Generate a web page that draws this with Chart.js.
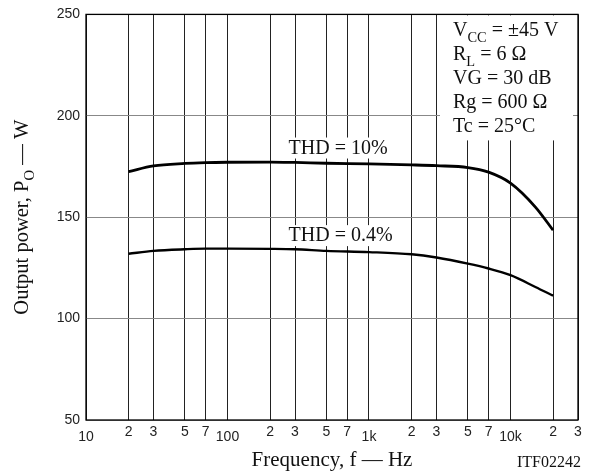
<!DOCTYPE html>
<html>
<head>
<meta charset="utf-8">
<script src="https://cdn.jsdelivr.net/npm/chart.js@4.4.0/dist/chart.umd.min.js"></script>
<style>
  html, body { margin: 0; padding: 0; background: #fff; }
  #wrap { width: 589px; height: 475px; }
</style>
</head>
<body>
<div id="wrap"><canvas id="powerChart"></canvas></div>
<script>
// Output power vs frequency for two THD levels
const freqs = [20, 30, 50, 70, 100, 200, 300, 500, 1000, 2000, 3000, 5000, 7000, 10000, 15000, 20000];
const thd10 = [172.5, 175.3, 176.5, 176.9, 177.1, 177.2, 177.0, 176.6, 176.3, 175.8, 175.4, 174.5, 172.2, 166.8, 155.0, 143.6];
const thd04 = [132.0, 133.4, 134.2, 134.5, 134.5, 134.4, 134.2, 133.4, 132.8, 131.7, 130.1, 127.1, 124.7, 121.4, 115.6, 111.3];

const xTicks = [10, 20, 30, 50, 70, 100, 200, 300, 500, 700, 1000, 2000, 3000, 5000, 7000, 10000, 20000, 30000];
const xTickLabels = ['10', '2', '3', '5', '7', '100', '2', '3', '5', '7', '1k', '2', '3', '5', '7', '10k', '2', '3'];
const decadeTicks = [10, 100, 1000, 10000];

const conditions = ['V_{CC} = ±45 V', 'R_{L} = 6 Ω', 'VG = 30 dB', 'Rg = 600 Ω', 'Tc = 25°C'];
const curveLabels = [
  { text: 'THD = 10%', f: 270, value: 181.4 },
  { text: 'THD = 0.4%', f: 270, value: 138.2 }
];

const SERIF = '"Liberation Serif", "Times New Roman", serif';
const SANS = '"Liberation Sans", Arial, sans-serif';
const INK = '#111';

// "X_{sub}" -> parts with subscript flag
function richParts(str) {
  const parts = [];
  str.split(/(_\{[^}]*\})/).forEach(s => {
    if (!s) return;
    if (s.startsWith('_{')) parts.push({ text: s.slice(2, -1), sub: true });
    else parts.push({ text: s, sub: false });
  });
  return parts;
}

function richWidth(ctx, str, size) {
  let w = 0;
  for (const p of richParts(str)) {
    ctx.font = (p.sub ? size * 0.72 : size) + 'px ' + SERIF;
    w += ctx.measureText(p.text).width;
  }
  return w;
}

function drawRich(ctx, str, x, y, size) {
  let cx = x;
  ctx.textAlign = 'left';
  ctx.textBaseline = 'alphabetic';
  for (const p of richParts(str)) {
    ctx.font = (p.sub ? size * 0.72 : size) + 'px ' + SERIF;
    ctx.fillText(p.text, cx, p.sub ? y + size * 0.3 : y);
    cx += ctx.measureText(p.text).width;
  }
  return cx - x;
}

const annotations = {
  id: 'annotations',
  beforeDatasetsDraw(chart) {
    const { ctx, chartArea, scales } = chart;
    ctx.save();

    // conditions block, top right, on white
    const tx = chartArea.right - 125;
    const firstBase = chartArea.top + 22;
    ctx.fillStyle = '#fff';
    ctx.fillRect(tx - 13, chartArea.top + 1, chartArea.right - 5 - (tx - 13), 125);
    ctx.fillStyle = INK;
    conditions.forEach((c, i) => drawRich(ctx, c, tx, firstBase + i * 24, 20));

    // curve labels
    curveLabels.forEach(l => {
      const x = scales.x.getPixelForValue(l.f);
      const y = scales.y.getPixelForValue(l.value);
      const w = richWidth(ctx, l.text, 20);
      ctx.fillStyle = '#fff';
      ctx.fillRect(x - 4, y - 16, w + 8, 21);
      ctx.fillStyle = INK;
      drawRich(ctx, l.text, x, y, 20);
    });
    ctx.restore();
  },
  afterDatasetsDraw(chart) {
    const { ctx, chartArea } = chart;
    ctx.save();
    ctx.strokeStyle = '#000';
    ctx.lineWidth = 1.3;
    ctx.strokeRect(chartArea.left, chartArea.top, chartArea.right - chartArea.left, chartArea.bottom - chartArea.top);

    // y axis title with subscript
    const yTitle = 'Output power, P_{O} — W';
    ctx.fillStyle = INK;
    const w = richWidth(ctx, yTitle, 20.5);
    ctx.translate(28, (chartArea.top + chartArea.bottom) / 2);
    ctx.rotate(-Math.PI / 2);
    drawRich(ctx, yTitle, -w / 2, 0, 20.5);
    ctx.restore();

    // figure code
    ctx.save();
    ctx.fillStyle = INK;
    ctx.font = '16px ' + SERIF;
    ctx.textAlign = 'right';
    ctx.textBaseline = 'alphabetic';
    ctx.fillText('ITF02242', 581, 467);
    ctx.restore();
  }
};

new Chart(document.getElementById('powerChart'), {
  type: 'line',
  data: {
    datasets: [
      {
        label: 'THD = 10%',
        data: freqs.map((f, i) => ({ x: f, y: thd10[i] })),
        borderColor: '#000',
        borderWidth: 2.8,
        pointRadius: 0,
        cubicInterpolationMode: 'monotone'
      },
      {
        label: 'THD = 0.4%',
        data: freqs.map((f, i) => ({ x: f, y: thd04[i] })),
        borderColor: '#000',
        borderWidth: 2.4,
        pointRadius: 0,
        cubicInterpolationMode: 'monotone'
      }
    ]
  },
  options: {
    responsive: true,
    maintainAspectRatio: false,
    animation: false,
    layout: { padding: { top: 12, right: 11, left: 0, bottom: 0 } },
    plugins: {
      legend: { display: false },
      tooltip: { enabled: false }
    },
    scales: {
      x: {
        type: 'logarithmic',
        min: 10,
        max: 30000,
        afterBuildTicks: scale => {
          scale.ticks = xTicks.map(v => ({ value: v }));
        },
        afterFit: scale => { scale.height = 55; },
        grid: { color: '#222', lineWidth: 1, drawTicks: false },
        border: { display: false },
        ticks: {
          autoSkip: false,
          maxRotation: 0,
          padding: 3.6,
          color: '#222',
          font: ctx => ({
            family: SANS,
            size: 14,
            lineHeight: ctx.tick && decadeTicks.includes(ctx.tick.value) ? 1.87 : 1.2
          }),
          callback: (value, index) => xTickLabels[index]
        },
        title: {
          display: true,
          text: 'Frequency, f — Hz',
          color: INK,
          font: { family: SERIF, size: 21 },
          padding: { top: 0, bottom: 1.5 }
        }
      },
      y: {
        min: 50,
        max: 250,
        afterFit: scale => { scale.width = 86; },
        grid: { color: '#888', lineWidth: 1, drawTicks: false },
        border: { display: false },
        ticks: {
          stepSize: 50,
          padding: 6,
          color: '#222',
          font: { family: SANS, size: 14 }
        }
      }
    }
  },
  plugins: [annotations]
});
</script>
</body>
</html>
